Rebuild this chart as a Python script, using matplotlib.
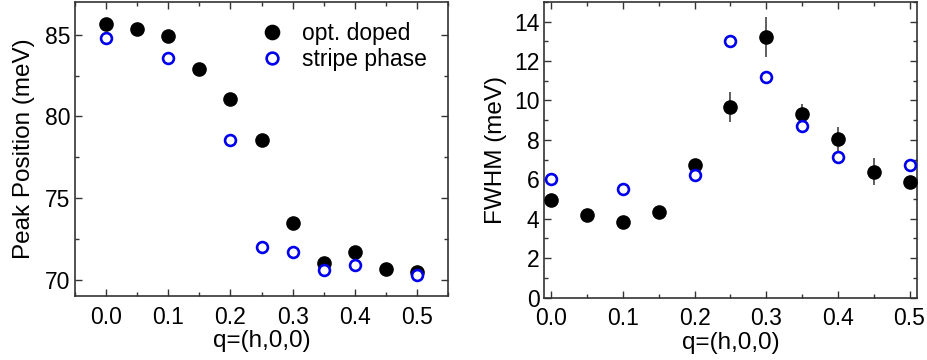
import numpy as np
import matplotlib.pyplot as plt
from matplotlib.ticker import MultipleLocator

plt.rcParams['font.family'] = ['Liberation Sans', 'DejaVu Sans']
plt.rcParams['font.size'] = 16.5

# opt. doped (filled black)
q_opt = [0.0, 0.05, 0.1, 0.15, 0.2, 0.25, 0.3, 0.35, 0.4, 0.45, 0.5]
pos_opt = [85.65, 85.37, 84.9, 82.88, 81.06, 78.57, 73.51, 71.04, 71.73, 70.65, 70.51]
fwhm_opt = [4.94, 4.21, 3.82, 4.36, 6.72, 9.68, 13.22, 9.31, 8.02, 6.39, 5.86]
fwhm_opt_err = [0.2, 0.2, 0.2, 0.2, 0.3, 0.77, 1.0, 0.5, 0.65, 0.7, 0.2]

# stripe phase (open blue)
q_str = [0.0, 0.1, 0.2, 0.25, 0.3, 0.35, 0.4, 0.5]
pos_str = [84.8, 83.57, 78.57, 72.04, 71.71, 70.59, 70.92, 70.29]
fwhm_str = [5.99, 5.5, 6.21, 13.02, 11.21, 8.70, 7.12, 6.71]

fig = plt.figure(figsize=(9.28, 3.6), dpi=100)
ax1 = fig.add_axes([0.0808, 0.177, 0.402, 0.8175])
ax2 = fig.add_axes([0.5865, 0.1736, 0.4013, 0.821])

filled = dict(ls='none', marker='o', ms=9.5, mfc='black', mec='black', zorder=3)
hollow = dict(ls='none', marker='o', ms=7.8, mfc='white', mec='#0000ee', mew=1.9, zorder=4)

# left: peak position
ax1.plot(q_opt, pos_opt, label='opt. doped', **filled)
ax1.plot(q_str, pos_str, label='stripe phase', **hollow)
ax1.set_xlim(-0.05, 0.55)
ax1.set_ylim(69, 87)
ax1.xaxis.set_major_locator(MultipleLocator(0.1))
ax1.xaxis.set_minor_locator(MultipleLocator(0.05))
ax1.yaxis.set_major_locator(MultipleLocator(5))
ax1.yaxis.set_minor_locator(MultipleLocator(2.5))
ax1.set_ylabel('Peak Position (meV)', fontsize=17.5, labelpad=7)
ax1.set_xlabel('q=(h,0,0)', fontsize=17.5, labelpad=1)
ax1.legend(loc='upper right', frameon=False, handletextpad=0.8,
           labelspacing=0.15, borderaxespad=0.3, handlelength=1.0,
           fontsize=16.5, markerscale=1.08, bbox_to_anchor=(0.985, 0.988))

# right: FWHM
ax2.errorbar(q_opt, fwhm_opt, yerr=fwhm_opt_err, ecolor='#444444', elinewidth=1.2,
             capsize=0, **filled)
ax2.plot(q_str, fwhm_str, **hollow)
ax2.set_xlim(-0.01, 0.51)
ax2.set_ylim(0, 15)
ax2.xaxis.set_major_locator(MultipleLocator(0.1))
ax2.xaxis.set_minor_locator(MultipleLocator(0.05))
ax2.yaxis.set_major_locator(MultipleLocator(2))
ax2.yaxis.set_minor_locator(MultipleLocator(1))
ax2.set_ylabel('FWHM (meV)', fontsize=17.5, labelpad=5)
ax2.set_xlabel('q=(h,0,0)', fontsize=17.5, labelpad=1)

for ax in (ax1, ax2):
    ax.tick_params(which='both', direction='in', top=True, right=True,
                   color='#333333', width=1)
    ax.tick_params(which='major', length=5)
    ax.tick_params(which='minor', length=3)
    ax.tick_params(axis='x', pad=7)
    ax.xaxis.set_major_formatter(plt.FormatStrFormatter('%.1f'))
    for sp in ax.spines.values():
        sp.set_color('#333333')
        sp.set_linewidth(1.2)

fig.savefig('out.png', dpi=100)
